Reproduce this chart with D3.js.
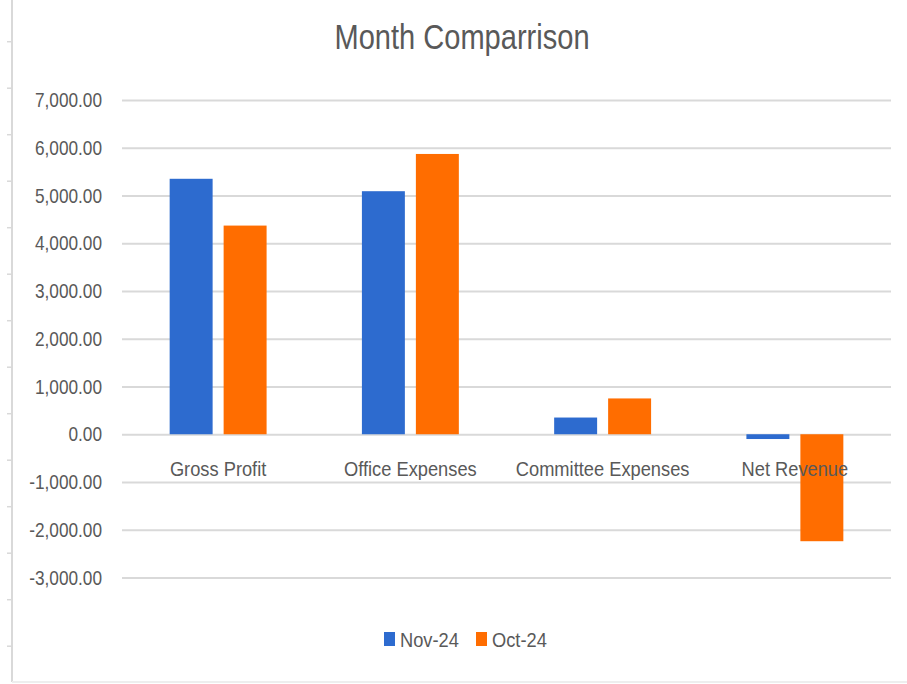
<!DOCTYPE html>
<html>
<head>
<meta charset="utf-8">
<script src="https://cdn.jsdelivr.net/npm/d3@7"></script>
<style>
  body { margin: 0; background: #fff; }
  text { font-family: "Liberation Sans", sans-serif; fill: #595959; }
</style>
</head>
<body>
<div id="wrapper"></div>
<script>
const categories = ["Gross Profit", "Office Expenses", "Committee Expenses", "Net Revenue"];
const seriesNames = ["Nov-24", "Oct-24"];
const nov24 = [5350, 5090, 350, -100];
const oct24 = [4370, 5870, 750, -2240];
const yTicks = [7000, 6000, 5000, 4000, 3000, 2000, 1000, 0, -1000, -2000, -3000];
const colors = ["#2D6BCF", "#FF6D00"];

// squeeze text horizontally, like a narrow font
function narrow(selection, k) {
    selection.each(function () {
        const w = this.getComputedTextLength();
        d3.select(this)
            .attr("textLength", w * k)
            .attr("lengthAdjust", "spacingAndGlyphs");
    });
}

function drawBarChart() {
    let dimensions = {
        width: 907,
        height: 684,
        margin: { top: 100, right: 16, bottom: 106.5, left: 122 }
    }
    dimensions.boundedWidth = dimensions.width - dimensions.margin.left - dimensions.margin.right;
    dimensions.boundedHeight = dimensions.height - dimensions.margin.top - dimensions.margin.bottom;

    const data = categories.map((c, i) => ({ category: c, values: [nov24[i], oct24[i]] }));

    const svg = d3.select("#wrapper")
        .append("svg")
        .attr("width", dimensions.width)
        .attr("height", dimensions.height);

    // left / bottom frame of the cropped screenshot
    svg.append("line")
        .attr("x1", 12).attr("x2", 12).attr("y1", 0).attr("y2", 682)
        .attr("stroke", "#d9d9d9").attr("stroke-width", 2);
    svg.append("line")
        .attr("x1", 12).attr("x2", dimensions.width).attr("y1", 682).attr("y2", 682)
        .attr("stroke", "#eeeeee").attr("stroke-width", 2);
    svg.append("g").selectAll("line")
        .data(d3.range(14))
        .join("line")
        .attr("x1", 7).attr("x2", 12)
        .attr("y1", d => 41.7 + d * 46.5).attr("y2", d => 41.7 + d * 46.5)
        .attr("stroke", "#d9d9d9").attr("stroke-width", 1.5);

    const bounds = svg.append("g")
        .attr("transform", `translate(${dimensions.margin.left},${dimensions.margin.top})`);

    const xScale = d3.scaleBand()
        .domain(categories)
        .range([0, dimensions.boundedWidth]);

    const x1Scale = d3.scaleBand()
        .domain(seriesNames)
        .range([0, xScale.bandwidth()])
        .paddingInner(0.204)
        .paddingOuter(0.883);

    const yScale = d3.scaleLinear()
        .domain([-3000, 7000])
        .range([dimensions.boundedHeight, 0]);

    const locale = d3.formatLocale({ decimal: ".", thousands: ",", grouping: [3], currency: ["", ""], minus: "-" });

    // gridlines + tick labels
    const yAxis = d3.axisLeft(yScale)
        .tickValues(yTicks)
        .tickSize(-dimensions.boundedWidth)
        .tickPadding(20)
        .tickFormat(locale.format(",.2f"));

    const yAxisGroup = bounds.append("g").call(yAxis);
    yAxisGroup.select(".domain").remove();
    yAxisGroup.selectAll(".tick line").attr("stroke", "#d9d9d9").attr("stroke-width", 2);
    yAxisGroup.selectAll(".tick text")
        .style("font-size", "21px")
        .style("fill", "#595959")
        .style("font-family", "'Liberation Sans', sans-serif")
        .call(narrow, 0.82);

    // bars
    const groups = bounds.append("g").selectAll("g")
        .data(data)
        .join("g")
        .attr("transform", d => `translate(${xScale(d.category)},0)`);

    groups.selectAll("rect")
        .data(d => d.values.map((v, i) => ({ key: seriesNames[i], value: v, i: i })))
        .join("rect")
        .attr("x", d => x1Scale(d.key))
        .attr("width", x1Scale.bandwidth())
        .attr("y", d => yScale(Math.max(0, d.value)))
        .attr("height", d => Math.abs(yScale(d.value) - yScale(0)))
        .attr("fill", d => colors[d.i]);

    // category labels
    bounds.append("g").selectAll("text")
        .data(categories)
        .join("text")
        .attr("x", d => xScale(d) + xScale.bandwidth() / 2)
        .attr("y", yScale(0) + 42)
        .attr("text-anchor", "middle")
        .style("font-size", "21px")
        .text(d => d)
        .call(narrow, 0.87);

    // title
    svg.append("text")
        .attr("x", 462)
        .attr("y", 49)
        .attr("text-anchor", "middle")
        .style("font-size", "35px")
        .text("Month Comparrison")
        .call(narrow, 0.83);

    // legend
    const legend = svg.append("g").attr("transform", "translate(384,639)");
    const legendX = [0, 92];
    const items = legend.selectAll("g")
        .data(seriesNames)
        .join("g")
        .attr("transform", (d, i) => `translate(${legendX[i]},0)`);
    items.append("rect")
        .attr("x", 0).attr("y", -7)
        .attr("width", 11).attr("height", 14)
        .attr("fill", (d, i) => colors[i]);
    items.append("text")
        .attr("x", 16).attr("y", 8)
        .style("font-size", "21px")
        .text(d => d)
        .call(narrow, 0.87);
}

drawBarChart();
</script>
</body>
</html>
